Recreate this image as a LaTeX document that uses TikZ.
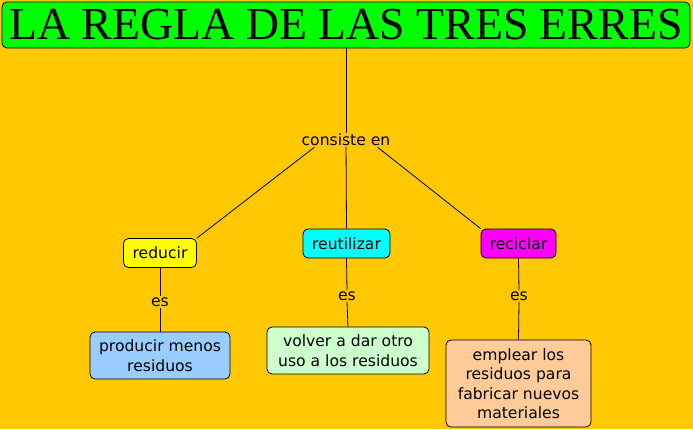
\documentclass[tikz,border=0pt]{standalone}
\usepackage{fontspec}
\setmainfont{DejaVu Sans}
\newfontfamily\titlefont{Liberation Serif}
\definecolor{bg}{HTML}{FFC800}
\definecolor{titlegreen}{HTML}{00FF00}
\definecolor{cyellow}{HTML}{FFFF00}
\definecolor{ccyan}{HTML}{00FFFF}
\definecolor{cmagenta}{HTML}{FF00FF}
\definecolor{cblue}{HTML}{99CCFF}
\definecolor{cgreen}{HTML}{CCFFCC}
\definecolor{cpeach}{HTML}{FFCC99}
\tikzset{
  concept/.style={draw=black, line width=0.8pt, rounded corners=5pt, inner sep=0pt, align=center, font=\fontsize{15.6}{19.5}\selectfont},
  linklabel/.style={fill=bg, inner sep=1pt, font=\fontsize{15.6}{18}\selectfont},
  conn/.style={draw=black, line width=0.8pt}
}
\begin{document}
\begin{tikzpicture}[x=1pt,y=-1pt]
\useasboundingbox (0,0) rectangle (693,429);
\fill[bg] (0,0) rectangle (693,429);
\node[concept, fill=titlegreen, minimum width=688pt, minimum height=46pt, font=\titlefont\fontsize{45.8}{50}\selectfont] (title) at (346,25) {LA REGLA DE LAS TRES ERRES};
\node[linklabel] (consiste) at (346,140) {consiste en};
\node[concept, fill=cyellow, minimum width=73pt, minimum height=29pt] (reducir) at (160,253) {reducir};
\node[concept, fill=ccyan, minimum width=87pt, minimum height=29pt] (reutilizar) at (346.5,243.5) {reutilizar};
\node[concept, fill=cmagenta, minimum width=75pt, minimum height=29pt] (reciclar) at (518.5,243.5) {reciclar};
\node[linklabel] (es1) at (160,302) {es};
\node[linklabel] (es2) at (347,296) {es};
\node[linklabel] (es3) at (519,296) {es};
\node[concept, fill=cblue, minimum width=140pt, minimum height=47pt] (producir) at (160,355.5) {producir menos\\residuos};
\node[concept, fill=cgreen, minimum width=162pt, minimum height=47pt] (volver) at (348,350.5) {volver a dar otro\\uso a los residuos};
\node[concept, fill=cpeach, minimum width=145pt, minimum height=87pt] (emplear) at (518.5,383.5) {emplear los\\residuos para\\fabricar nuevos\\materiales};
\draw[conn] (title.south) -- (consiste.north);
\draw[conn] (consiste.south west) ++(14,0) -- (reducir.north east);
\draw[conn] (consiste) -- (reutilizar.north);
\draw[conn] (consiste.south east) ++(-14,0) -- (reciclar.north west);
\draw[conn] (reducir.south) -- (es1.north);
\draw[conn] (es1.south) -- (producir.north);
\draw[conn] (reutilizar.south) -- (es2.north);
\draw[conn] (es2.south) -- (volver.north);
\draw[conn] (reciclar.south) -- (es3.north);
\draw[conn] (es3.south) -- (emplear.north);
\end{tikzpicture}
\end{document}
